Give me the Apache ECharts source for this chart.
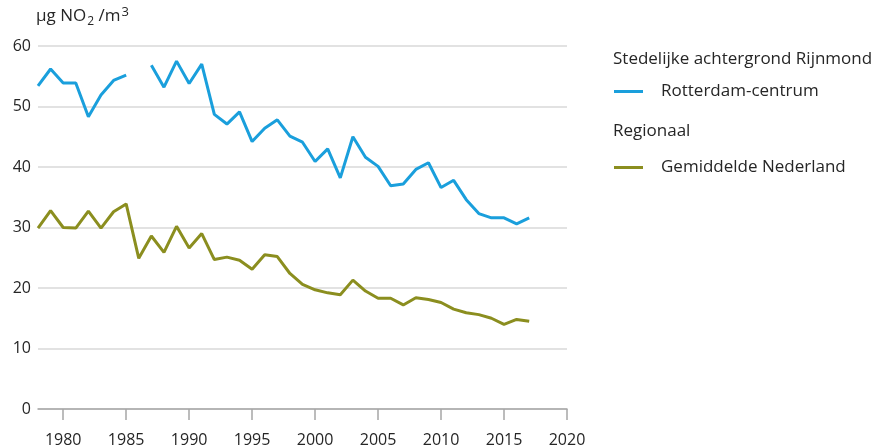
<!DOCTYPE html>
<html>
<head>
<meta charset="utf-8">
<style>
  html, body { margin: 0; padding: 0; background: #fff; }
  #chart { width: 872px; height: 448px; }
</style>
<script src="https://cdn.jsdelivr.net/npm/echarts@6/dist/echarts.min.js"></script>
</head>
<body>
<div id="chart"></div>
<script>
// jaren
const years = [];
for (let y = 1978; y <= 2017; y++) years.push(y);

// Rotterdam-centrum (1986 ontbreekt)
const rotterdam = [
  53.4, 56.2, 53.9, 53.9, 48.3, 51.9, 54.3, 55.2, null, 56.8,
  53.2, 57.5, 53.8, 57.0, 48.7, 47.1, 49.1, 44.2, 46.4, 47.8,
  45.1, 44.1, 40.9, 43.0, 38.2, 45.0, 41.6, 40.1, 36.9, 37.2,
  39.6, 40.7, 36.6, 37.8, 34.6, 32.3, 31.6, 31.6, 30.6, 31.6
];

// Gemiddelde Nederland
const nederland = [
  29.9, 32.8, 30.0, 29.9, 32.7, 29.9, 32.6, 33.9, 24.9, 28.6,
  25.9, 30.2, 26.6, 29.0, 24.7, 25.1, 24.6, 23.1, 25.5, 25.2,
  22.4, 20.6, 19.7, 19.2, 18.9, 21.3, 19.5, 18.3, 18.3, 17.2,
  18.4, 18.1, 17.6, 16.5, 15.9, 15.6, 15.0, 14.0, 14.8, 14.5
];

const xTicks = [1980, 1985, 1990, 1995, 2000, 2005, 2010, 2015, 2020];

const blue = '#1a9fdc';
const olive = '#8b8e1f';
const textColor = '#262626';
const font = 'Open Sans';

const chart = echarts.init(document.getElementById('chart'));

const pairs = (vals) => years.map((y, i) => [y, vals[i]]);

const legendText = { fontFamily: font, fontSize: 17, color: textColor, padding: [0, 0, 0, 13] };

chart.setOption({
  animation: false,
  textStyle: { fontFamily: font },
  grid: { left: 38, right: 305, top: 46, bottom: 38 },
  title: [
    {
      text: 'Stedelijke achtergrond Rijnmond',
      left: 613, top: 51, padding: 0,
      textStyle: { fontFamily: font, fontSize: 17, fontWeight: 'normal', color: textColor }
    },
    {
      text: 'Regionaal',
      left: 613, top: 123, padding: 0,
      textStyle: { fontFamily: font, fontSize: 17, fontWeight: 'normal', color: textColor }
    }
  ],
  legend: [
    {
      data: ['Rotterdam-centrum'],
      left: 614, top: 83, padding: 0,
      icon: 'rect', itemWidth: 29, itemHeight: 3,
      textStyle: legendText
    },
    {
      data: ['Gemiddelde Nederland'],
      left: 614, top: 159, padding: 0,
      icon: 'rect', itemWidth: 29, itemHeight: 3,
      textStyle: legendText
    }
  ],
  xAxis: {
    type: 'value',
    min: 1978,
    max: 2020,
    axisLine: { show: true, lineStyle: { color: '#a6a6a6', width: 1.5 } },
    axisTick: { show: true, customValues: xTicks, length: 11, lineStyle: { color: '#a6a6a6', width: 1.5 } },
    axisLabel: {
      customValues: xTicks,
      margin: 23,
      fontSize: 16,
      color: textColor,
      fontFamily: font,
      formatter: (v) => String(v)
    },
    splitLine: { show: false }
  },
  yAxis: {
    type: 'value',
    min: 0,
    max: 60,
    interval: 10,
    name: '{a|µg NO}{s|2}{a| /m}{p|3}',
    nameLocation: 'end',
    nameGap: 18,
    nameTextStyle: {
      align: 'left',
      padding: [0, 0, 0, -2],
      rich: {
        a: { fontFamily: font, fontSize: 17, color: textColor },
        s: { fontFamily: font, fontSize: 12, color: textColor, padding: [12, 0, 0, 1] },
        p: { fontFamily: font, fontSize: 13, color: textColor, padding: [0, 0, 8, 1] }
      }
    },
    axisLine: { show: false },
    axisTick: { show: false },
    axisLabel: { fontSize: 16, color: textColor, fontFamily: font, margin: 7 },
    splitLine: { lineStyle: { color: '#d9d9d9', width: 1.5 } }
  },
  series: [
    {
      name: 'Rotterdam-centrum',
      type: 'line',
      data: pairs(rotterdam),
      connectNulls: false,
      showSymbol: false,
      symbol: 'none',
      color: blue,
      lineStyle: { width: 3, color: blue }
    },
    {
      name: 'Gemiddelde Nederland',
      type: 'line',
      data: pairs(nederland),
      showSymbol: false,
      symbol: 'none',
      color: olive,
      lineStyle: { width: 3, color: olive }
    }
  ]
});
</script>
</body>
</html>
